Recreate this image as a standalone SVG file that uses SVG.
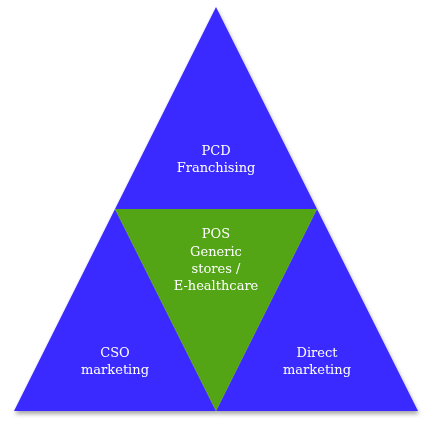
<svg xmlns="http://www.w3.org/2000/svg" width="443" height="428" viewBox="0 0 443 428">
<defs>
<filter id="sh" x="-10%" y="-10%" width="120%" height="120%">
<feGaussianBlur in="SourceAlpha" stdDeviation="2"/>
<feOffset dx="1" dy="3"/>
<feComponentTransfer><feFuncA type="linear" slope="0.35"/></feComponentTransfer>
<feMerge><feMergeNode/><feMergeNode in="SourceGraphic"/></feMerge>
</filter>
</defs>
<style>
.blue{fill:#3A2BFF}
.green{fill:#52A516}
text{font-family:"DejaVu Serif","Liberation Serif",serif;font-size:13px;fill:#ffffff;text-anchor:middle}
</style>
<rect width="443" height="428" fill="#ffffff"/>
<g filter="url(#sh)">
<g id="top">
<polygon class="blue" points="216,7 115,209 317,209"/>
<text x="216" y="155">PCD</text>
<text x="216" y="172">Franchising</text>
</g>
<g id="left">
<polygon class="blue" points="115,209 14,411 216,411"/>
<text x="115" y="357">CSO</text>
<text x="115" y="374">marketing</text>
</g>
<g id="right">
<polygon class="blue" points="317,209 216,411 418,411"/>
<text x="317" y="357">Direct</text>
<text x="317" y="374">marketing</text>
</g>
<g id="center">
<polygon class="green" points="115,209 317,209 216,411"/>
<text x="216" y="238">POS</text>
<text x="216" y="256">Generic</text>
<text x="216" y="273">stores /</text>
<text x="216" y="290">E-healthcare</text>
</g>
</g>
<g id="connectors"/>
</svg>
